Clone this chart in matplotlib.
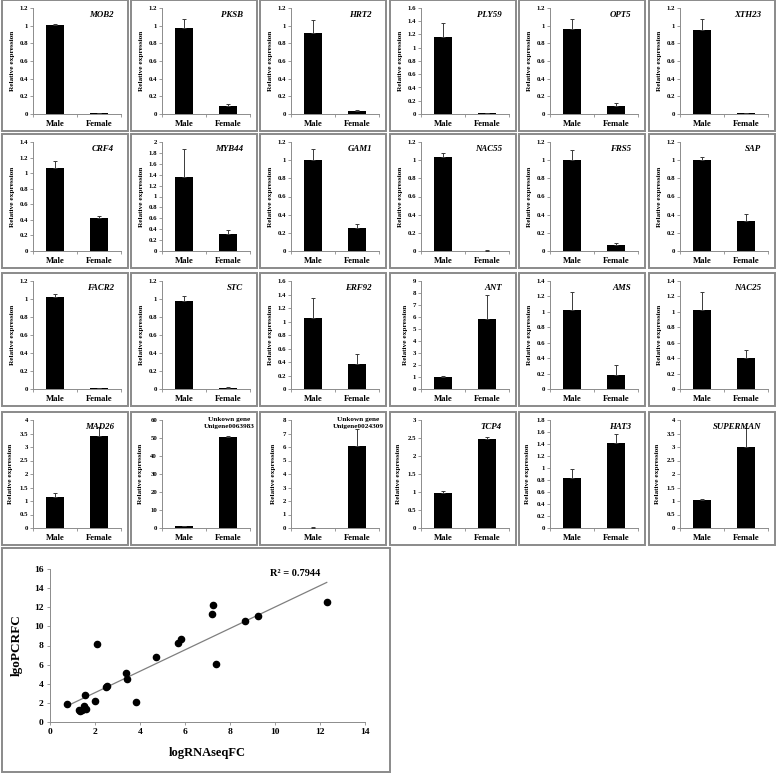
import numpy as np
import matplotlib
matplotlib.use("Agg")
import matplotlib.pyplot as plt
from matplotlib.patches import Rectangle

plt.rcParams["font.family"] = ["Liberation Serif", "DejaVu Serif"]

# ---- bar panel data (row by row) ----
genes = [
    "MOB2", "PKSB", "HRT2", "PLY59", "OPT5", "XTH23",
    "CRF4", "MYB44", "GAM1", "NAC55", "FRS5", "SAP",
    "FACR2", "STC", "ERF92", "ANT", "AMS", "NAC25",
    "MAD26", "Unkown gene\nUnigene0063983", "Unkown gene\nUnigene0024309",
    "TCP4", "HAT3", "SUPERMAN",
]
categories = ["Male", "Female"]
male_vals = [1.01, 0.97, 0.92, 1.16, 0.96, 0.95,
             1.06, 1.35, 1.00, 1.04, 1.00, 1.00,
             1.02, 0.98, 1.05, 1.00, 1.02, 1.02,
             1.13, 1.00, 0.03, 0.97, 0.83, 1.02]
male_err = [0.01, 0.10, 0.14, 0.22, 0.11, 0.12,
            0.09, 0.52, 0.12, 0.04, 0.11, 0.04,
            0.04, 0.05, 0.30, 0.06, 0.24, 0.24,
            0.17, 0.35, 0.01, 0.06, 0.15, 0.06]
female_vals = [0.006, 0.09, 0.03, 0.012, 0.09, 0.006,
               0.43, 0.31, 0.25, 0.004, 0.07, 0.33,
               0.006, 0.015, 0.37, 5.80, 0.18, 0.40,
               3.42, 50.5, 6.10, 2.46, 1.41, 3.00]
female_err = [0.002, 0.02, 0.01, 0.004, 0.04, 0.002,
              0.02, 0.07, 0.05, 0.002, 0.02, 0.08,
              0.002, 0.005, 0.15, 2.00, 0.13, 0.11,
              0.33, 0.50, 1.25, 0.08, 0.15, 0.70]
y_max = [1.2, 1.2, 1.2, 1.6, 1.2, 1.2,
         1.4, 2.0, 1.2, 1.2, 1.2, 1.2,
         1.2, 1.2, 1.6, 9, 1.4, 1.4,
         4, 60, 8, 3, 1.8, 4]
y_step = [0.2, 0.2, 0.2, 0.2, 0.2, 0.2,
          0.2, 0.2, 0.2, 0.2, 0.2, 0.2,
          0.2, 0.2, 0.2, 1, 0.2, 0.2,
          0.5, 10, 1, 0.5, 0.2, 0.5]

# ---- scatter data ----
log_rnaseq_fc = [0.74, 1.28, 1.33, 1.40, 1.51, 1.60, 1.56, 2.00, 2.09, 2.49,
                 2.55, 3.39, 3.42, 3.82, 4.71, 5.69, 5.82, 7.21, 7.26, 7.39,
                 8.68, 9.26, 12.30]
log_qpcr_fc = [1.92, 1.30, 1.10, 1.22, 1.64, 1.40, 2.79, 2.20, 8.14, 3.63,
               3.74, 5.17, 4.54, 2.10, 6.78, 8.21, 8.66, 11.25, 12.19, 6.04,
               10.55, 11.07, 12.58]
r_squared = 0.7944

W, H = 778, 773
fig = plt.figure(figsize=(W / 100, H / 100), dpi=100)

BORDER = "#8a8a8a"
AXIS = "#8c8c8c"


def fbox(left, top, width, height):
    """Pixel box (top-left origin) to figure fraction [l, b, w, h]."""
    return [left / W, 1 - (top + height) / H, width / W, height / H]


def panel_frame(left, top, width, height):
    rect = Rectangle((left / W, 1 - (top + height) / H), width / W, height / H,
                     transform=fig.transFigure, fill=False,
                     edgecolor=BORDER, linewidth=1.4)
    fig.add_artist(rect)


def style_axis(ax):
    for side in ("top", "right"):
        ax.spines[side].set_visible(False)
    for side in ("left", "bottom"):
        ax.spines[side].set_color(AXIS)
        ax.spines[side].set_linewidth(0.7)
    ax.tick_params(colors=AXIS, width=0.6, labelcolor="black")


col_left = [2, 131, 260, 390, 519, 649]
row_top = [0, 134, 273, 412]
row_h = [131, 134, 133, 133]
panel_w = 126

x = np.array([0.5, 1.5])
for i, gene in enumerate(genes):
    r, c = divmod(i, 6)
    left, top, ph = col_left[c], row_top[r], row_h[r]
    panel_frame(left, top, panel_w, ph)

    ax = fig.add_axes(fbox(left + 31, top + 8, 88, ph - 25))
    style_axis(ax)
    ax.bar(x, [male_vals[i], female_vals[i]], width=0.39, color="black", zorder=2)
    ax.errorbar(x, [male_vals[i], female_vals[i]],
                yerr=[[0, 0], [male_err[i], female_err[i]]],
                fmt="none", ecolor="#3a3a3a", elinewidth=0.7,
                capsize=1.6, capthick=0.7, zorder=3)
    ax.set_xlim(0, 2)
    ax.set_ylim(0, y_max[i])
    ticks = np.arange(0, y_max[i] + y_step[i] / 2, y_step[i])
    ax.set_yticks(ticks)
    ax.set_yticklabels([f"{t:g}" for t in ticks], fontsize=4.9, fontweight="bold")
    ax.tick_params(axis="y", length=2, pad=1.5)
    ax.set_xticks([0, 1, 2])
    ax.set_xticklabels([])
    ax.tick_params(axis="x", which="major", length=2.5)
    ax.set_xticks(x, minor=True)
    ax.set_xticklabels(categories, minor=True, fontsize=6.2, fontweight="bold")
    ax.tick_params(axis="x", which="minor", length=0, pad=4)

    ax.set_ylabel("Relative expression", fontsize=5.3, fontweight="bold",
                  labelpad=3 if r < 3 else 5)

    if gene.startswith("Unkown"):
        ax.text(0.76, 1.03, gene, transform=ax.transAxes, ha="center", va="top",
                fontsize=5.2, fontweight="bold", linespacing=1.5)
    else:
        ax.text(0.92, 0.97, gene, transform=ax.transAxes, ha="right", va="top",
                fontsize=6.4, fontweight="bold", fontstyle="italic")

# ---- scatter panel ----
panel_frame(2, 548, 388, 224)
ax = fig.add_axes(fbox(50, 569, 315, 153))
style_axis(ax)
ax.scatter(log_rnaseq_fc, log_qpcr_fc, s=20, color="black", zorder=3)
slope, intercept = np.polyfit(log_rnaseq_fc, log_qpcr_fc, 1)
xs = np.array([min(log_rnaseq_fc), max(log_rnaseq_fc)])
ax.plot(xs, slope * xs + intercept, color="#7f7f7f", linewidth=0.9, zorder=2)
ax.set_xlim(0, 14)
ax.set_ylim(0, 16)
ax.set_xticks(np.arange(0, 15, 2))
ax.set_yticks(np.arange(0, 17, 2))
for lbl in ax.get_xticklabels() + ax.get_yticklabels():
    lbl.set_fontsize(6.8)
    lbl.set_fontweight("bold")
ax.tick_params(length=2.5, pad=2)
ax.set_xlabel("logRNAseqFC", fontsize=9, fontweight="bold", labelpad=8)
ax.set_ylabel("lgoPCRFC", fontsize=9.5, fontweight="bold", labelpad=8)
ax.text(10.9, 15.5, f"R² = {r_squared}", ha="center", va="center",
        fontsize=7.5, fontweight="bold")

fig.savefig("out.png", dpi=100)
